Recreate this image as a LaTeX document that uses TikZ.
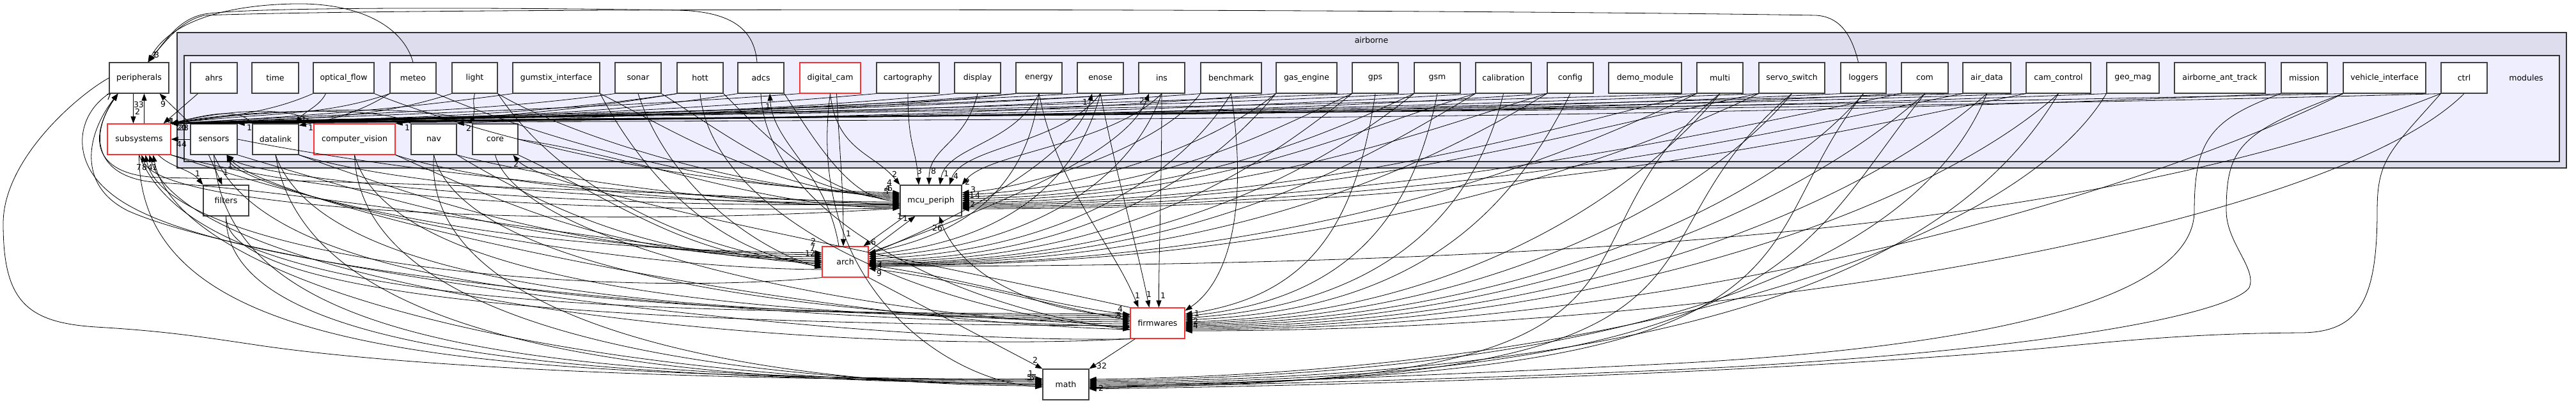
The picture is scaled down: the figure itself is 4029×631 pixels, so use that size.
\documentclass[tikz,border=0pt]{standalone}
\usepackage{fontspec}
\setmainfont{DejaVu Sans}
\usetikzlibrary{arrows.meta}
\definecolor{clout}{HTML}{DDDDEE}
\definecolor{clin}{HTML}{EEEEFF}
\definecolor{redb}{HTML}{FF3030}
\definecolor{boxd}{HTML}{404040}
\newcommand\boxfont{\fontsize{12.5}{15}\selectfont}
\begin{document}
\begin{tikzpicture}[x=1pt,y=-1pt,
  box/.style={draw=boxd, fill=white, line width=1.2pt, minimum height=48pt, inner sep=0pt, font=\boxfont},
  rbox/.style={box, draw=redb},
  clusterbox/.style={draw=black!80, line width=1.3pt, inner sep=0pt},
  dep/.style={line width=0.8pt, -{Triangle[length=11pt,width=8pt]}},
  nl/.style={font=\boxfont, inner sep=0pt}]
\useasboundingbox (0,0) rectangle (4029,631);
\fill[white] (0,0) rectangle (4029,631);
% clusters
\node[clusterbox, fill=clout, minimum width=3737pt, minimum height=212pt] (airborne) at (2145.5,157) {};
\node[clusterbox, fill=clin, minimum width=3715pt, minimum height=166pt] (modulescl) at (2145.5,170) {};
\node[nl] (airbornelbl) at (2145,63) {airborne};
\node[nl] (moduleslbl) at (3951,122) {modules};
% top row
\node[box, minimum width=93pt] (per) at (217.5,122) {peripherals};
\node[box, minimum width=73pt] (ahrs) at (334.5,122) {ahrs};
\node[box, minimum width=73pt] (time) at (430.5,122) {time};
\node[box, minimum width=95pt] (optflow) at (537.5,122) {optical\_flow};
\node[box, minimum width=72pt] (meteo) at (646,122) {meteo};
\node[box, minimum width=71pt] (light) at (742.5,122) {light};
\node[box, minimum width=136pt] (gumstix) at (870,122) {gumstix\_interface};
\node[box, minimum width=72pt] (sonar) at (998,122) {sonar};
\node[box, minimum width=72pt] (hott) at (1095,122) {hott};
\node[box, minimum width=72pt] (adcs) at (1190,122) {adcs};
\node[rbox, minimum width=95pt] (dcam) at (1298.5,122) {digital\_cam};
\node[box, minimum width=98pt] (carto) at (1420,122) {cartography};
\node[box, minimum width=72pt] (display) at (1529,122) {display};
\node[box, minimum width=72pt] (energy) at (1625,122) {energy};
\node[box, minimum width=72pt] (enose) at (1721,122) {enose};
\node[box, minimum width=72pt] (ins) at (1817,122) {ins};
\node[box, minimum width=95pt] (bench) at (1925.5,122) {benchmark};
\node[box, minimum width=95pt] (gaseng) at (2043.5,122) {gas\_engine};
\node[box, minimum width=72pt] (gps) at (2151,122) {gps};
\node[box, minimum width=72pt] (gsm) at (2248,122) {gsm};
\node[box, minimum width=87pt] (calib) at (2351.5,122) {calibration};
\node[box, minimum width=72pt] (config) at (2456,122) {config};
\node[box, minimum width=114pt] (demo) at (2573,122) {demo\_module};
\node[box, minimum width=72pt] (multi) at (2690,122) {multi};
\node[box, minimum width=103pt] (servo) at (2802.5,122) {servo\_switch};
\node[box, minimum width=71pt] (loggers) at (2914.5,122) {loggers};
\node[box, minimum width=73pt] (com) at (3010.5,122) {com};
\node[box, minimum width=75pt] (airdata) at (3107.5,122) {air\_data};
\node[box, minimum width=101pt] (camctl) at (3219.5,122) {cam\_control};
\node[box, minimum width=82pt] (geomag) at (3336,122) {geo\_mag};
\node[box, minimum width=142pt] (antt) at (3472,122) {airborne\_ant\_track};
\node[box, minimum width=72pt] (mission) at (3604,122) {mission};
\node[box, minimum width=129pt] (vehint) at (3729.5,122) {vehicle\_interface};
\node[box, minimum width=72pt] (ctrl) at (3854,122) {ctrl};
% second row
\node[rbox, minimum width=99pt] (sub) at (217.5,218) {subsystems};
\node[box, minimum width=73pt] (sen) at (334.5,218) {sensors};
\node[box, minimum width=72pt] (dat) at (431,218) {datalink};
\node[rbox, minimum width=127pt] (cv) at (554.5,218) {computer\_vision};
\node[box, minimum width=71pt] (nav) at (678.5,218) {nav};
\node[box, minimum width=71pt] (core) at (774.5,218) {core};
% lower nodes
\node[box, minimum width=71pt] (fil) at (353.5,314) {filters};
\node[box, minimum width=96pt] (mcu) at (1456,314) {mcu\_periph};
\node[rbox, minimum width=72pt] (arch) at (1322,410) {arch};
\node[rbox, minimum width=85pt] (fw) at (1810.5,506) {firmwares};
\node[box, minimum width=72pt] (math) at (1667,602) {math};

% ---- edges to peripherals from top
\draw[dep] (meteo.north) .. controls (630,40) and (560,4) .. (460,6) .. controls (350,8) and (265,35) .. ([xshift=14pt]per.north);
\draw[dep] ([xshift=-6pt]adcs.north) .. controls (1180,50) and (1150,18) .. (1060,16) .. controls (800,12) and (400,10) .. (320,22) .. controls (280,30) and (262,60) .. ([xshift=14pt]per.north);
\draw[dep] ([xshift=-8pt]loggers.north) .. controls (2895,50) and (2875,26) .. (2840,24) .. controls (2300,15) and (700,10) .. (320,24) .. controls (285,32) and (262,60) .. ([xshift=14pt]per.north);

% ---- left region
\draw[dep] ([xshift=-9pt]per.south) -- ([xshift=-9pt]sub.north);
\draw[dep] ([xshift=8pt]sub.north) -- ([xshift=8pt]per.south);
\draw[dep] (sen.north west) .. controls +(-20,-20) and +(15,15) .. ([xshift=-15pt]per.south east);
\draw[dep] (sen.west) -- (sub.east);
\draw[dep] ([xshift=-25pt]ahrs.south) -- ([xshift=-12pt]sub.north east);
\draw[dep] ([xshift=-20pt]sub.south east) .. controls +(20,20) and +(-20,-25) .. (fil.north west);
\draw[dep] ([xshift=-8pt]sen.south) -- ([xshift=-6pt]fil.north);
\draw[dep] (dat.north west) .. controls +(-20,-25) and +(60,-15) .. (sub.north east);
\draw[dep] (cv.north west) .. controls +(-30,-30) and +(80,-20) .. (sub.north east);
\draw[dep] (nav.north west) .. controls +(-40,-30) and +(100,-20) .. (sub.north east);
\draw[dep] (core.north west) .. controls +(-50,-35) and +(120,-20) .. (sub.north east);

% ---- bundle of modules -> subsystems
\foreach \m/\x [count=\i] in {optflow/490,meteo/610,light/707,gumstix/802,sonar/962,hott/1059,adcs/1154,dcam/1251,carto/1371,display/1493,energy/1589,enose/1685,ins/1781,bench/1878,gaseng/1996,gps/2115,gsm/2212,calib/2308,config/2420,multi/2654,servo/2751,loggers/2879,com/2974,airdata/3070,camctl/3169,geomag/3295,mission/3568,vehint/3665,ctrl/3818}{
  \pgfmathsetmacro\ca{-(\x-267)*0.3}
  \pgfmathsetmacro\cb{(\x-267)*0.45}
  \pgfmathsetmacro\cy{22+mod(\i,4)*7}
  \pgfmathsetmacro\cz{-8-mod(\i,3)*5}
  \draw[dep] (\m.south west) .. controls +(\ca,\cy) and +(\cb,\cz) .. (sub.north east);
}

% ---- small targets in second row
\draw[dep] ([xshift=-28pt]optflow.south) .. controls +(-10,20) and +(15,-20) .. ([xshift=-5pt]dat.north east);
\draw[dep] (meteo.south west) .. controls +(-40,25) and +(60,-10) .. ([yshift=-3pt]dat.north east);
\draw[dep] (hott.south west) .. controls +(-150,25) and +(200,-15) .. (cv.north east);
\draw[dep] (energy.south west) .. controls +(-300,25) and +(300,-15) .. (nav.north east);
\draw[dep] (light.south) .. controls +(-5,20) and +(10,-25) .. ([xshift=-3pt]core.north west);
\draw[dep] (ins.south west) .. controls +(-400,25) and +(400,-15) .. (sen.north east);

% ---- mcu_periph top
\draw[dep] (dcam.south) .. controls +(10,90) and +(-40,-50) .. (mcu.north west);
\draw[dep] (carto.south) .. controls +(0,80) and +(-5,-60) .. ([xshift=-19pt]mcu.north);
\draw[dep] (display.south) .. controls +(-20,80) and +(0,-60) .. ([xshift=-3pt]mcu.north);
\draw[dep] (energy.south) .. controls +(-40,80) and +(10,-60) .. ([xshift=14pt]mcu.north);
\draw[dep] (enose.south) .. controls +(-60,80) and +(20,-60) .. ([xshift=29pt]mcu.north);
\draw[dep] (ins.south) .. controls +(-80,80) and +(40,-50) .. (mcu.north east);

% ---- mcu_periph west
\foreach \s/\ax/\ay/\bx/\by/\sh in {
optflow.south east/150/60/-350/-8/12,
meteo.south east/140/60/-300/-6/10,
light.south east/100/60/-250/-5/8,
gumstix.south east/100/50/-200/-4/6,
sonar.south east/80/50/-150/-3/4,
hott.south east/60/60/-120/-2/2,
adcs.south east/40/60/-80/0/0,
sen.east/300/60/-300/0/-2,
dat.south east/200/60/-300/0/-4,
cv.south east/150/50/-250/5/-6,
nav.south east/150/40/-200/5/-8,
core.east/200/30/-200/5/-10,
sub.south east/300/80/-400/5/-12}
{\draw[dep] (\s) .. controls +(\ax,\ay) and +(\bx,\by) .. ([yshift=\sh pt]mcu.west);}

% ---- mcu_periph east
\foreach \s/\ax/\ay/\bx/\by/\sh in {
bench.south west/-60/80/120/-10/12,
gaseng.south west/-100/80/200/-8/9,
gps.south west/-150/70/300/-6/6,
gsm.south west/-150/70/350/-5/3,
calib.south west/-200/60/400/-4/0,
config.south west/-200/60/450/-3/-3,
multi.south west/-250/60/550/-2/-5,
servo.south west/-300/60/600/-1/-7,
com.south west/-300/60/700/0/-9,
airdata.south west/-300/60/800/0/-11,
camctl.south west/-300/60/900/0/-13}
{\draw[dep] (\s) .. controls +(\ax,\ay) and +(\bx,\by) .. ([yshift=\sh pt]mcu.east);}

% ---- arch
\draw[dep] ([xshift=10pt]dcam.south) .. controls +(5,100) and +(0,-100) .. ([xshift=-3pt]arch.north);
\foreach \s/\ax/\ay/\bx/\by/\sh in {
sub.south east/300/100/-450/-5/14,
sen.south east/300/90/-400/-5/11,
dat.south east/250/90/-350/-3/8,
cv.south east/200/90/-300/0/5,
nav.south east/150/90/-250/0/2,
core.south east/150/70/-200/0/-1,
light.south east/100/150/-200/-20/-4,
gumstix.south east/80/150/-150/-20/-7,
sonar.south/50/150/-100/-30/-10}
{\draw[dep] (\s) .. controls +(\ax,\ay) and +(\bx,\by) .. ([yshift=\sh pt]arch.west);}
\foreach \s/\ax/\ay/\bx/\by/\sh in {
energy.south/-20/150/150/-30/14,
enose.south/-40/150/200/-20/11,
ins.south/-50/140/250/-15/8,
bench.south/-80/130/300/-10/5,
gaseng.south west/-100/120/350/-5/2,
gps.south west/-150/120/400/-3/0,
gsm.south west/-150/120/450/-2/-2,
calib.south west/-200/120/500/-1/-3,
config.south west/-200/120/550/0/-4,
multi.south west/-250/120/650/0/-5,
servo.south west/-250/120/700/0/-6,
ctrl.south west/-500/200/1200/0/-7}
{\draw[dep] (\s) .. controls +(\ax,\ay) and +(\bx,\by) .. ([yshift=\sh pt]arch.east);}

\draw[dep] ([xshift=8pt]mcu.south west) -- ([xshift=-8pt]arch.north east);
\draw[dep] ([yshift=-8pt]arch.north east) -- ([xshift=24pt]mcu.south west);
\draw[dep] ([yshift=4pt]fw.west) .. controls +(-150,-30) and +(150,20) .. ([yshift=-10pt]arch.east);
\draw[dep] ([yshift=-5pt]arch.east) .. controls +(150,20) and +(-150,-20) .. ([yshift=13pt]fw.west);
\draw[dep] ([yshift=10pt]fw.west) .. controls +(-200,-10) and +(20,60) .. ([xshift=13pt]mcu.south);
\draw[dep] ([xshift=8pt]fw.south west) -- (math.north east);
\draw[dep] (arch.south east) -- (math.north west);

% ---- firmwares top
\draw[dep] (energy.south) .. controls +(30,150) and +(-40,-100) .. ([xshift=-30pt]fw.north);
\draw[dep] (enose.south) .. controls +(30,150) and +(-20,-100) .. ([xshift=-13pt]fw.north);
\draw[dep] (ins.south) .. controls +(0,150) and +(0,-100) .. ([xshift=2pt]fw.north);
\draw[dep] (bench.south) .. controls +(30,200) and +(60,-40) .. ([yshift=-5pt]fw.north east);

% ---- firmwares west
\foreach \s/\ax/\ay/\bx/\by/\sh in {
sub.south/100/250/-800/-5/14,
sen.south/100/230/-700/-5/11,
dat.south/80/230/-600/-4/8,
cv.south/60/220/-500/-3/5,
nav.south/50/200/-400/-2/2,
core.south/40/150/-350/0/-1,
fil.south/0/150/-600/-2/-4,
hott.south/20/200/-300/-20/-7,
adcs.south/10/200/-250/-30/-10}
{\draw[dep] (\s) .. controls +(\ax,\ay) and +(\bx,\by) .. ([yshift=\sh pt]fw.west);}
\draw[dep] (per.south west) .. controls (120,180) and (110,250) .. (170,300) .. controls (250,370) and (500,420) .. (900,460) .. controls (1300,500) and (1600,505) .. ([yshift=-6pt]fw.west);

% ---- firmwares east
\foreach \s/\ax/\ay/\bx/\by/\sh in {
gps.south/-30/200/200/-30/14,
gsm.south/-40/200/250/-25/11,
calib.south/-50/200/300/-20/8,
config.south/-100/200/350/-15/5,
multi.south/-150/180/400/-10/2,
servo.south/-150/180/450/-8/0,
loggers.south/-150/180/500/-6/-2,
com.south/-200/180/550/-4/-4,
airdata.south/-200/180/600/-2/-6,
camctl.south/-200/180/650/0/-8,
vehint.south west/-300/150/800/0/-10,
ctrl.south/-200/200/900/0/-12}
{\draw[dep] (\s) .. controls +(\ax,\ay) and +(\bx,\by) .. ([yshift=\sh pt]fw.east);}

% ---- math west
\foreach \s/\ax/\ay/\bx/\by/\sh in {
sub.south/0/320/-900/-5/8,
sen.south/20/300/-800/-5/6,
fil.south/0/220/-700/-5/4,
dat.south/50/300/-600/0/2,
cv.south/10/280/-500/-5/0,
nav.south/-20/280/-400/0/-2,
dcam.south/-40/300/-150/-10/-4}
{\draw[dep] (\s) .. controls +(\ax,\ay) and +(\bx,\by) .. ([yshift=\sh pt]math.west);}
\draw[dep] (per.west) .. controls (120,150) and (5,250) .. (5,350) .. controls (5,470) and (40,505) .. (150,512) .. controls (250,518) and (300,525) .. (400,540) .. controls (700,585) and (1300,598) .. ([yshift=9pt]math.west);

% ---- math east
\foreach \s/\ax/\ay/\bx/\by/\sh in {
geomag.south west/-150/250/800/-10/8,
airdata.south/-100/250/900/-10/6,
camctl.south/-150/250/1000/-8/4,
com.south/-200/250/1100/-6/2,
loggers.south/-200/250/1200/-5/0,
servo.south/-300/250/1100/-4/-2,
multi.south/-300/250/1000/-3/-4}
{\draw[dep] (\s) .. controls +(\ax,\ay) and +(\bx,\by) .. ([yshift=\sh pt]math.east);}
\draw[dep] (mission.south west) .. controls +(-110,40) and (3432,220) .. (3432,330) .. controls (3432,470) and (3100,545) .. (2600,570) .. controls (2200,590) and (1900,600) .. ([yshift=-5pt]math.east);
\draw[dep] (vehint.south west) .. controls +(-160,60) and (3482,230) .. (3482,330) .. controls (3482,380) and (3530,420) .. (3518,450) .. controls (3500,480) and (3300,540) .. (2700,575) .. controls (2300,595) and (1900,602) .. ([yshift=-6pt]math.east);
\draw[dep] (ctrl.south west) .. controls +(-80,90) and (3718,250) .. (3718,330) .. controls (3718,470) and (3690,520) .. (3600,521) .. controls (3450,522) and (3350,530) .. (3200,545) .. controls (2700,590) and (2000,605) .. ([yshift=-7pt]math.east);

% ---- back edges
\draw[dep] ([yshift=-8pt]mcu.west) .. controls (1100,300) and (500,283) .. (250,278) .. controls (150,275) and (135,220) .. ([xshift=-33pt]per.south);
\draw[dep] (arch.west) .. controls (1000,390) and (500,300) .. (250,286) .. controls (145,280) and (140,210) .. ([xshift=-33pt]per.south);
\draw[dep] (fw.south west) .. controls (1300,540) and (400,420) .. (200,330) .. controls (120,290) and (135,210) .. ([xshift=-33pt]per.south);
\draw[dep] ([yshift=-12pt]mcu.west) .. controls (900,360) and (250,330) .. ([xshift=4pt]sub.south);
\draw[dep] (arch.south west) .. controls (900,470) and (260,400) .. ([xshift=10pt]sub.south);
\draw[dep] (fw.south west) .. controls (1200,560) and (300,450) .. ([xshift=16pt]sub.south);
\draw[dep] (math.west) .. controls (900,600) and (280,450) .. ([xshift=22pt]sub.south);
\draw[dep] ([yshift=-12pt]arch.west) .. controls (900,420) and (380,300) .. ([xshift=20pt]sen.south);
\draw[dep] ([yshift=-5pt]mcu.west) .. controls (900,330) and (400,280) .. ([xshift=20pt]sen.south);
\draw[dep] ([yshift=-10pt]fw.west) .. controls (1200,500) and (420,320) .. ([xshift=20pt]sen.south);
\draw[dep] (fw.north west) .. controls (1400,400) and (850,300) .. ([xshift=28pt]core.south);
\draw[dep] ([xshift=-10pt]arch.north) .. controls +(-20,-120) and +(5,80) .. ([xshift=14pt]adcs.south);
\draw[dep] ([yshift=12pt]arch.east) .. controls +(200,-80) and +(-20,80) .. ([xshift=-13pt]enose.south);
\draw[dep] ([yshift=14pt]arch.east) .. controls +(250,-90) and +(-30,80) .. ([xshift=-20pt]ins.south);

% ---- edge labels
\node[nl] (l01) at (242,86) {1};
\node[nl] (l02) at (245,86) {3};
\node[nl] (l03) at (217,164) {33};
\node[nl] (l04) at (215,175) {2};
\node[nl] (l05) at (255,163) {9};
\node[nl] (l06) at (170,152) {7};
\node[nl] (l07) at (284,226) {44};
\node[nl] (l08) at (266,190) {4};
\node[nl] (l09) at (269,190) {1};
\node[nl] (l10) at (284,200) {20};
\node[nl] (l11) at (287,200) {28};
\node[nl] (l12) at (217,262) {7};
\node[nl] (l13) at (226,262) {8};
\node[nl] (l14) at (235,262) {4};
\node[nl] (l15) at (242,262) {1};
\node[nl] (l16) at (309,272) {1};
\node[nl] (l17) at (353,270) {1};
\node[nl] (l18) at (360,258) {1};
\node[nl] (l19) at (390,200) {1};
\node[nl] (l20) at (475,187) {1};
\node[nl] (l21) at (486,200) {1};
\node[nl] (l22) at (637,200) {1};
\node[nl] (l23) at (733,201) {2};
\node[nl] (l24) at (807,257) {2};
\node[nl] (l25) at (1201,167) {1};
\node[nl] (l26) at (1697,160) {1};
\node[nl] (l27) at (1786,158) {2};
\node[nl] (l28) at (1399,273) {2};
\node[nl] (l29) at (1438,268) {3};
\node[nl] (l30) at (1460,268) {8};
\node[nl] (l31) at (1480,272) {1};
\node[nl] (l32) at (1495,276) {4};
\node[nl] (l33) at (1513,285) {2};
\node[nl] (l34) at (1391,286) {4};
\node[nl] (l35) at (1388,295) {4};
\node[nl] (l36) at (1392,295) {6};
\node[nl] (l37) at (1386,300) {5};
\node[nl] (l38) at (1522,297) {3};
\node[nl] (l39) at (1520,306) {1};
\node[nl] (l40) at (1529,306) {4};
\node[nl] (l41) at (1521,320) {2};
\node[nl] (l42) at (1466,357) {26};
\node[nl] (l43) at (1407,339) {1};
\node[nl] (l44) at (1416,342) {1};
\node[nl] (l45) at (1327,366) {1};
\node[nl] (l46) at (1366,379) {6};
\node[nl] (l47) at (1272,378) {2};
\node[nl] (l48) at (1271,388) {7};
\node[nl] (l49) at (1267,397) {12};
\node[nl] (l50) at (1376,414) {7};
\node[nl] (l51) at (1376,416) {4};
\node[nl] (l52) at (1375,428) {9};
\node[nl] (l53) at (1779,463) {1};
\node[nl] (l54) at (1797,461) {1};
\node[nl] (l55) at (1819,463) {1};
\node[nl] (l56) at (1872,491) {1};
\node[nl] (l57) at (1752,484) {4};
\node[nl] (l58) at (1747,494) {2};
\node[nl] (l59) at (1750,494) {3};
\node[nl] (l60) at (1870,503) {2};
\node[nl] (l61) at (1870,510) {4};
\node[nl] (l62) at (1619,564) {2};
\node[nl] (l63) at (1723,573) {32};
\node[nl] (l64) at (1610,591) {5};
\node[nl] (l65) at (1614,591) {3};
\node[nl] (l66) at (1617,591) {7};
\node[nl] (l67) at (1612,585) {1};
\node[nl] (l68) at (1722,608) {2};
\end{tikzpicture}
\end{document}
